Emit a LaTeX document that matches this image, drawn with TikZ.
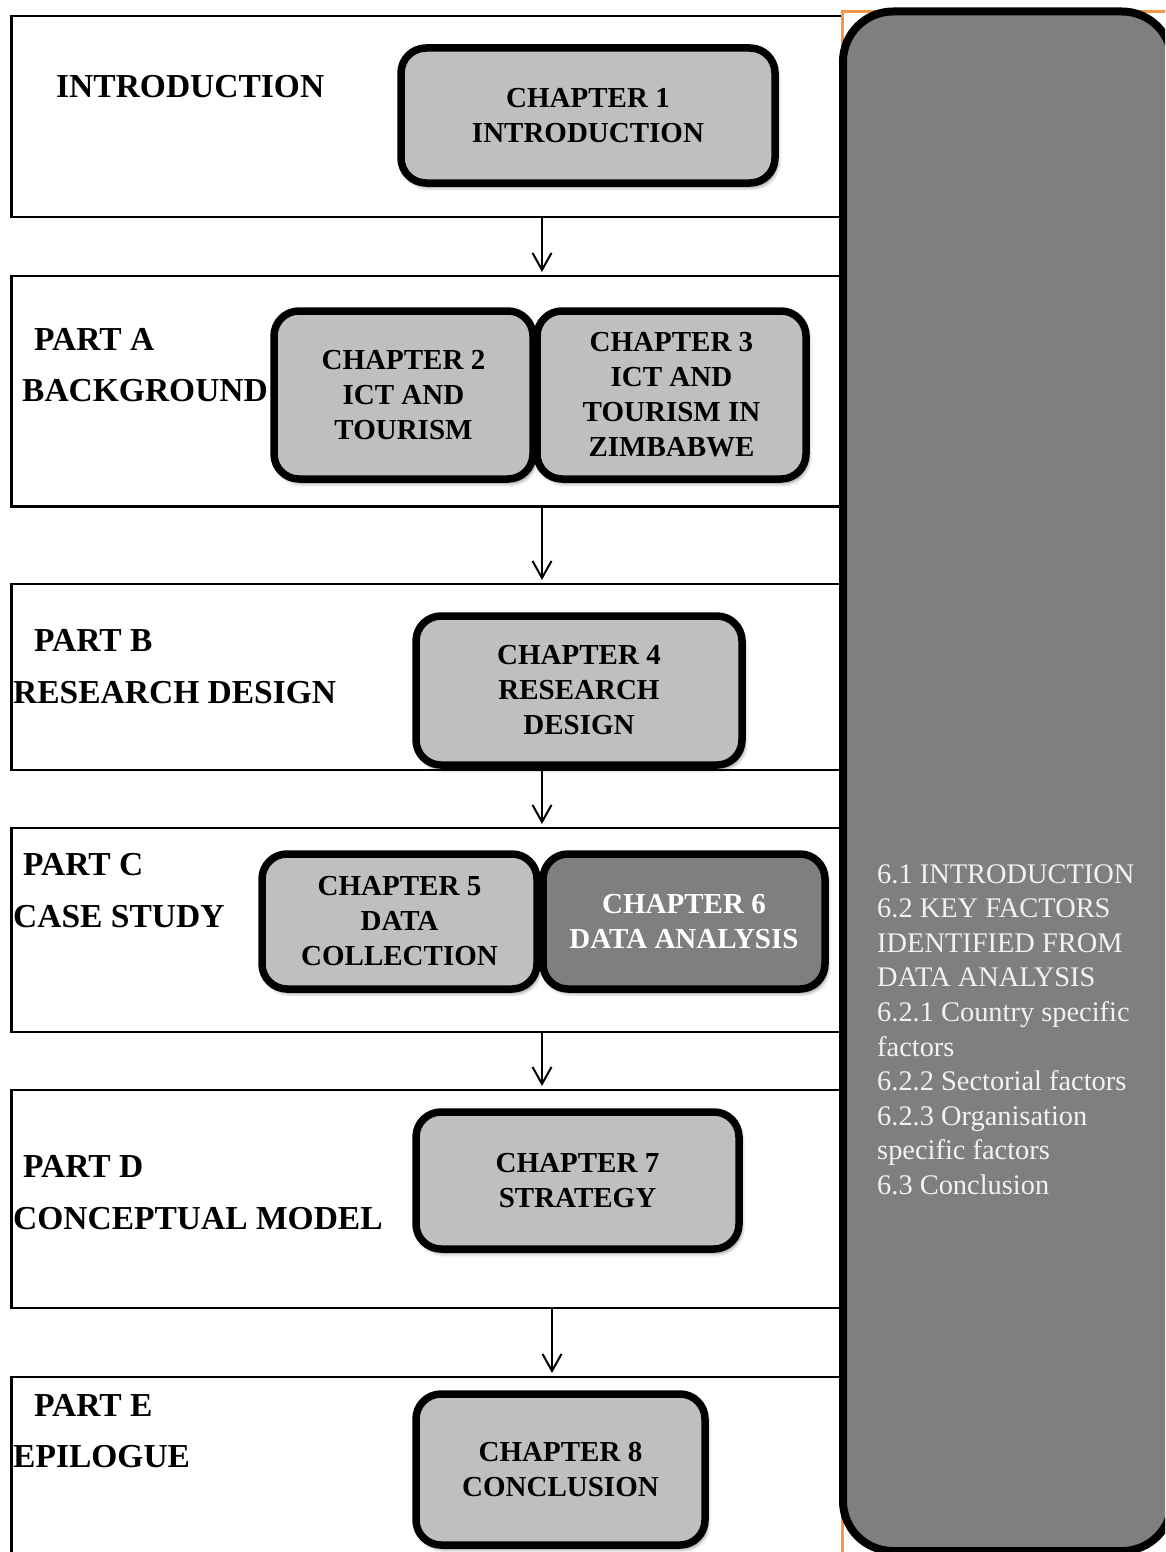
\documentclass[tikz,border=0pt]{standalone}
\usepackage{fontspec}
\setmainfont{Liberation Serif}
\usetikzlibrary{arrows.meta,shadows.blur}
\definecolor{chfill}{HTML}{BFBFBF}
\definecolor{darkfill}{HTML}{7F7F7F}
\definecolor{framecol}{HTML}{F79646}
\definecolor{listtext}{HTML}{F2F2F2}

\begin{document}
\begin{tikzpicture}[x=1pt,y=-1pt,
  section/.style={draw=black, line width=2.6pt, rectangle, inner sep=0pt, outer sep=0pt},
  partlabel/.style={anchor=base west, inner sep=0pt, font=\fontsize{33.5}{40}\selectfont\bfseries},
  chapter/.style={draw=black, line width=7.5pt, rounded corners=25pt, fill=chfill,
    align=center, inner sep=0pt, outer sep=0pt,
    font=\fontsize{29}{35}\selectfont\bfseries,
    blur shadow={shadow xshift=2.5pt, shadow yshift=-4pt, shadow blur radius=4pt, shadow opacity=50}},
  keychapter/.style={chapter, fill=darkfill, text=white},
  flow/.style={draw=black, line width=2pt, shorten >=4pt, -{Straight Barb[length=17pt, width=19pt]}},
  listline/.style={anchor=base west, inner sep=0pt, text=listtext, font=\fontsize{28.4}{34.6}\selectfont}
]
\useasboundingbox (0,0) rectangle (1165,1552);
\clip (0,0) rectangle (1165,1552);

% part sections
\node[section, minimum width=830.5pt, minimum height=201pt]   (sI) at (426.75,116.5) {};
\node[section, minimum width=830.5pt, minimum height=230.5pt] (sA) at (426.75,391.25) {};
\node[section, minimum width=830.5pt, minimum height=186pt]   (sB) at (426.75,677) {};
\node[section, minimum width=830.5pt, minimum height=204pt]   (sC) at (426.75,930) {};
\node[section, minimum width=830.5pt, minimum height=218pt]   (sD) at (426.75,1199) {};
\node[section, minimum width=830.5pt, minimum height=323pt]   (sE) at (426.75,1538.5) {};

% orange frame behind the side panel
\node[draw=framecol, line width=3pt, inner sep=0pt, minimum width=358pt, minimum height=1588pt] (frame) at (1021,806) {};

% part labels
\node[partlabel] (lI)  at (56,98)   {INTRODUCTION};
\node[partlabel] (lA1) at (34,350)  {PART A};
\node[partlabel] (lA2) at (22,401)  {BACKGROUND};
\node[partlabel] (lB1) at (34,651)  {PART B};
\node[partlabel] (lB2) at (13,703)  {RESEARCH DESIGN};
\node[partlabel] (lC1) at (23,875)  {PART C};
\node[partlabel] (lC2) at (13,927)  {CASE STUDY};
\node[partlabel] (lD1) at (23,1177) {PART D};
\node[partlabel] (lD2) at (13,1229) {CONCEPTUAL MODEL};
\node[partlabel] (lE1) at (34,1416) {PART E};
\node[partlabel] (lE2) at (13,1467) {EPILOGUE};

% flow between sections
\coordinate (colA) at (542,0);
\coordinate (colB) at (552,0);
\draw[flow] (sI.south -| colA) -- (sA.north -| colA);
\draw[flow] (sA.south -| colA) -- (sB.north -| colA);
\draw[flow] (sB.south -| colA) -- (sC.north -| colA);
\draw[flow] (sC.south -| colA) -- (sD.north -| colA);
\draw[flow] (sD.south -| colB) -- (sE.north -| colB);

% chapters
\node[chapter, minimum width=374pt, minimum height=135pt] (c1) at (588,115.5) {CHAPTER 1\\INTRODUCTION};
\node[chapter, minimum width=259pt, minimum height=168pt] (c2) at (403.5,395) {CHAPTER 2\\ICT AND\\TOURISM};
\node[chapter, minimum width=269pt, minimum height=168pt] (c3) at (671.5,395) {CHAPTER 3\\ICT AND\\TOURISM IN\\ZIMBABWE};
\node[chapter, minimum width=326pt, minimum height=149pt] (c4) at (579,690.5) {CHAPTER 4\\RESEARCH\\DESIGN};
\node[chapter, minimum width=275pt, minimum height=135pt] (c5) at (399.5,921.5) {CHAPTER 5\\DATA\\COLLECTION};
\node[keychapter, minimum width=282pt, minimum height=135pt] (c6) at (684,921.5) {CHAPTER 6\\DATA ANALYSIS};
\node[chapter, minimum width=323pt, minimum height=137pt] (c7) at (577.5,1180.5) {CHAPTER 7\\STRATEGY};
\node[chapter, minimum width=289pt, minimum height=151pt] (c8) at (560.5,1469.5) {CHAPTER 8\\CONCLUSION};

% side panel with the contents of chapter 6
\node[draw=black, line width=8pt, rounded corners=50pt, fill=darkfill, inner sep=0pt,
      minimum width=329pt, minimum height=1539.5pt] (panel) at (1007.5,781.25) {};
\foreach \t [count=\i] in {6.1 INTRODUCTION, 6.2 KEY FACTORS, IDENTIFIED FROM, DATA ANALYSIS,
    6.2.1 Country specific, factors, 6.2.2 Sectorial factors, 6.2.3 Organisation,
    specific factors, 6.3 Conclusion}
  \node[listline] (item\i) at (877,{883+(\i-1)*34.6}) {\t};
\end{tikzpicture}
\end{document}
